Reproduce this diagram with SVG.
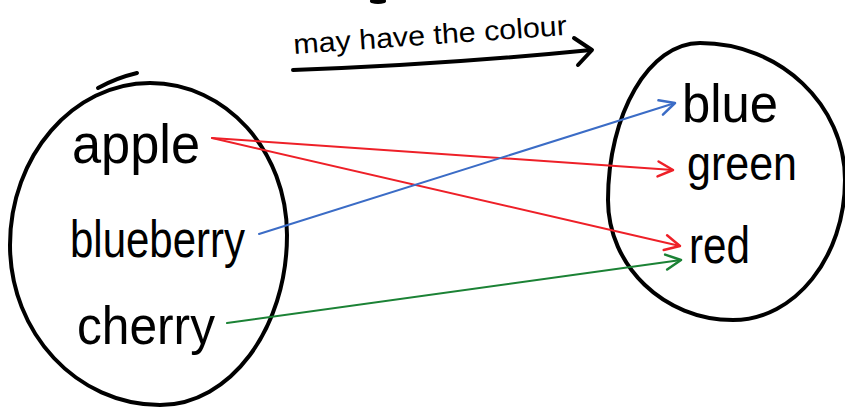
<svg xmlns="http://www.w3.org/2000/svg" width="845" height="410" viewBox="0 0 845 410">
  <style>
    .hand { fill: none; stroke: #000; stroke-width: 4; stroke-linecap: round; stroke-linejoin: round; }
    .lbl { font-family: "Liberation Sans", Arial, sans-serif; fill: #000; }
    .conn { fill: none; stroke-width: 2; stroke-linecap: round; }
    .red { stroke: #ee2028; }
    .blue { stroke: #3b6cc6; }
    .green { stroke: #1b8235; }
  </style>
  <defs>
    <marker id="mRed" markerUnits="userSpaceOnUse" markerWidth="20" markerHeight="20" viewBox="-14 -8 16 16" refX="0" refY="0" orient="auto">
      <path d="M -12 -6 L 0 0 L -12 6" fill="none" stroke="#ee2028" stroke-width="2" stroke-linecap="round" stroke-linejoin="round"/>
    </marker>
    <marker id="mBlue" markerUnits="userSpaceOnUse" markerWidth="20" markerHeight="20" viewBox="-14 -8 16 16" refX="0" refY="0" orient="auto">
      <path d="M -12 -6 L 0 0 L -12 6" fill="none" stroke="#3b6cc6" stroke-width="2" stroke-linecap="round" stroke-linejoin="round"/>
    </marker>
    <marker id="mGreen" markerUnits="userSpaceOnUse" markerWidth="20" markerHeight="20" viewBox="-14 -8 16 16" refX="0" refY="0" orient="auto">
      <path d="M -12 -6 L 0 0 L -12 6" fill="none" stroke="#1b8235" stroke-width="2" stroke-linecap="round" stroke-linejoin="round"/>
    </marker>
  </defs>

  <rect width="845" height="410" fill="#fff"/>

  <!-- stray mark at top edge -->
  <path class="hand" d="M 372 1 Q 378 3 384 1" stroke-width="3"/>

  <!-- title relation arrow -->
  <g id="relation">
    <text class="lbl" x="294" y="54" font-size="28" textLength="274" lengthAdjust="spacingAndGlyphs" transform="rotate(-4 294 54)">may have the colour</text>
    <path class="hand" d="M 293 70 Q 440 65 591 50"/>
    <path class="hand" d="M 574 38 L 592 50 L 578 65"/>
  </g>

  <!-- left set: fruits -->
  <g id="fruits">
    <path class="hand" d="M 150 83 C 226 83, 287 151, 287 235 C 287 329, 230 405, 160 405 C 77 405, 10 333, 10 245 C 10 156, 73 83, 150 83 Z"/>
    <path class="hand" d="M 98 88 Q 116 78 137 73"/>
    <g id="apple"><text class="lbl" x="72" y="163" font-size="56" textLength="128" lengthAdjust="spacingAndGlyphs">apple</text></g>
    <g id="blueberry"><text class="lbl" x="70" y="257" font-size="52" textLength="175" lengthAdjust="spacingAndGlyphs">blueberry</text></g>
    <g id="cherry"><text class="lbl" x="77" y="344" font-size="54" textLength="138" lengthAdjust="spacingAndGlyphs">cherry</text></g>
  </g>

  <!-- right set: colours -->
  <g id="colours">
    <path class="hand" d="M 700 43 C 780 43, 845 105, 845 180 C 845 257, 795 320, 733 320 C 664 320, 608 266, 608 200 C 608 114, 649 43, 700 43 Z"/>
    <g id="blue"><text class="lbl" x="682" y="122" font-size="54" textLength="96" lengthAdjust="spacingAndGlyphs">blue</text></g>
    <g id="green"><text class="lbl" x="687" y="180" font-size="48" textLength="110" lengthAdjust="spacingAndGlyphs">green</text></g>
    <g id="red"><text class="lbl" x="689" y="263" font-size="52" textLength="61" lengthAdjust="spacingAndGlyphs">red</text></g>
  </g>

  <!-- connectors -->
  <g id="connectors">
    <line class="conn red" x1="212" y1="138" x2="673" y2="170" marker-end="url(#mRed)"/>
    <line class="conn red" x1="212" y1="138" x2="680" y2="246" marker-end="url(#mRed)"/>
    <line class="conn blue" x1="259" y1="234" x2="675" y2="103" marker-end="url(#mBlue)"/>
    <line class="conn green" x1="227" y1="323" x2="681" y2="260" marker-end="url(#mGreen)"/>
  </g>
</svg>
